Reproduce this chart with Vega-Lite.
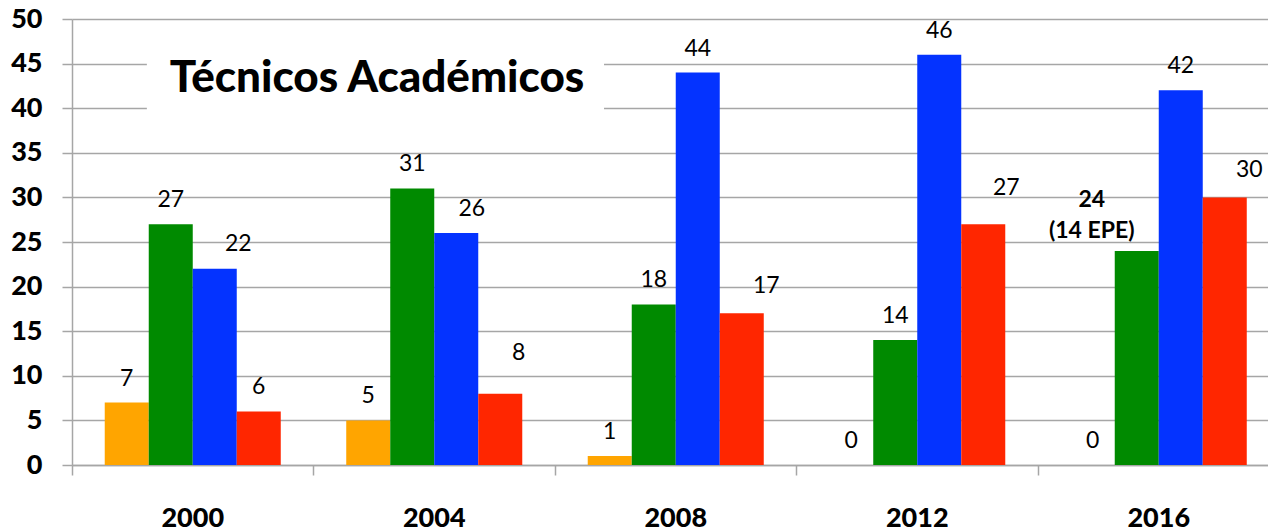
{
  "$schema": "https://vega.github.io/schema/vega-lite/v6.json",
  "width": 1196,
  "height": 446,
  "autosize": "none",
  "padding": {"left": 72, "top": 19, "right": 0, "bottom": 66},
  "background": "white",
  "config": {"view": {"stroke": null}, "font": "Lato"},
  "datasets": {
    "main": [
      {"year": "2000", "series": "A", "value": 7},
      {"year": "2000", "series": "B", "value": 27},
      {"year": "2000", "series": "C", "value": 22},
      {"year": "2000", "series": "D", "value": 6},
      {"year": "2004", "series": "A", "value": 5},
      {"year": "2004", "series": "B", "value": 31},
      {"year": "2004", "series": "C", "value": 26},
      {"year": "2004", "series": "D", "value": 8},
      {"year": "2008", "series": "A", "value": 1},
      {"year": "2008", "series": "B", "value": 18},
      {"year": "2008", "series": "C", "value": 44},
      {"year": "2008", "series": "D", "value": 17},
      {"year": "2012", "series": "A", "value": 0},
      {"year": "2012", "series": "B", "value": 14},
      {"year": "2012", "series": "C", "value": 46},
      {"year": "2012", "series": "D", "value": 27},
      {"year": "2016", "series": "A", "value": 0},
      {"year": "2016", "series": "B", "value": 24},
      {"year": "2016", "series": "C", "value": 42},
      {"year": "2016", "series": "D", "value": 30}
    ]
  },
  "data": {"name": "main"},
  "resolve": {"axis": {"x": "independent"}},
  "layer": [
    {
      "layer": [
        {
          "mark": {"type": "bar"},
          "encoding": {
            "x": {
              "field": "year", "type": "nominal",
              "scale": {"range": [0, 1207.5], "paddingInner": 0, "paddingOuter": 0},
              "axis": {"orient": "bottom", "title": null, "ticks": false, "domain": true, "domainColor": "#a6a6a6", "domainWidth": 1.5, "labelFont": "Lato", "labelFontSize": 27, "labelFontWeight": 900, "labelColor": "black", "labelPadding": 40, "labelAngle": 0, "grid": false}
            },
            "xOffset": {"field": "series", "type": "nominal", "scale": {"paddingInner": 0, "paddingOuter": 0.744}},
            "y": {
              "field": "value", "type": "quantitative",
              "scale": {"domain": [0, 50], "nice": false},
              "axis": {"title": null, "values": [0, 5, 10, 15, 20, 25, 30, 35, 40, 45, 50], "grid": true, "gridColor": "#a6a6a6", "gridWidth": 1.5, "domainColor": "#a6a6a6", "domainWidth": 1.5, "tickColor": "#a6a6a6", "tickSize": 10, "tickWidth": 1.5, "labelFont": "Lato", "labelFontSize": 27, "labelFontWeight": 900, "labelColor": "black", "labelPadding": 20}
            },
            "color": {"field": "series", "type": "nominal", "legend": null, "scale": {"domain": ["A", "B", "C", "D"], "range": ["#FFA500", "#008A00", "#0433FF", "#FF2600"]}}
          }
        },
        {
          "data": {"values": [{}]},
          "mark": {"type": "rect", "color": "white"},
          "encoding": {
            "x": {"datum": "2000", "type": "nominal", "bandPosition": 0.31},
            "x2": {"datum": "2008", "bandPosition": 0.203},
            "y": {"datum": 38, "type": "quantitative"},
            "y2": {"datum": 47.5}
          }
        },
        {
          "data": {"values": [{}]},
          "mark": {"type": "text", "text": "Técnicos Académicos", "font": "Lato", "fontSize": 44, "fontWeight": 900, "align": "left", "baseline": "alphabetic", "color": "black"},
          "encoding": {
            "x": {"datum": "2000", "type": "nominal", "bandPosition": 0.405},
            "y": {"datum": 41.8, "type": "quantitative"}
          }
        },
        {
          "transform": [{"filter": "indexof(['2000|C','2004|C','2004|D','2008|D','2012|D','2016|D','2016|B'], datum.year + '|' + datum.series) < 0"}],
          "mark": {"type": "text", "font": "Lato", "fontSize": 23, "baseline": "alphabetic", "dy": -17, "color": "black"},
          "encoding": {
            "x": {"field": "year", "type": "nominal"},
            "xOffset": {"field": "series", "type": "nominal"},
            "y": {"field": "value", "type": "quantitative"},
            "text": {"field": "value", "type": "quantitative"}
          }
        },
        {
          "transform": [{"filter": "datum.year == '2000' && datum.series == 'C'"}],
          "mark": {"type": "text", "font": "Lato", "fontSize": 23, "baseline": "alphabetic", "dx": 23.5, "dy": -18, "color": "black"},
          "encoding": {
            "x": {"field": "year", "type": "nominal"},
            "xOffset": {"field": "series", "type": "nominal"},
            "y": {"field": "value", "type": "quantitative"},
            "text": {"field": "value", "type": "quantitative"}
          }
        },
        {
          "transform": [{"filter": "datum.year == '2004' && datum.series == 'C'"}],
          "mark": {"type": "text", "font": "Lato", "fontSize": 23, "baseline": "alphabetic", "dx": 15.5, "dy": -17, "color": "black"},
          "encoding": {
            "x": {"field": "year", "type": "nominal"},
            "xOffset": {"field": "series", "type": "nominal"},
            "y": {"field": "value", "type": "quantitative"},
            "text": {"field": "value", "type": "quantitative"}
          }
        },
        {
          "transform": [{"filter": "datum.year == '2004' && datum.series == 'D'"}],
          "mark": {"type": "text", "font": "Lato", "fontSize": 23, "baseline": "alphabetic", "dx": 18.5, "dy": -34, "color": "black"},
          "encoding": {
            "x": {"field": "year", "type": "nominal"},
            "xOffset": {"field": "series", "type": "nominal"},
            "y": {"field": "value", "type": "quantitative"},
            "text": {"field": "value", "type": "quantitative"}
          }
        },
        {
          "transform": [{"filter": "(datum.year == '2008' || datum.year == '2016') && datum.series == 'D'"}],
          "mark": {"type": "text", "font": "Lato", "fontSize": 23, "baseline": "alphabetic", "dx": 24.5, "dy": -20, "color": "black"},
          "encoding": {
            "x": {"field": "year", "type": "nominal"},
            "xOffset": {"field": "series", "type": "nominal"},
            "y": {"field": "value", "type": "quantitative"},
            "text": {"field": "value", "type": "quantitative"}
          }
        },
        {
          "transform": [{"filter": "datum.year == '2012' && datum.series == 'D'"}],
          "mark": {"type": "text", "font": "Lato", "fontSize": 23, "baseline": "alphabetic", "dx": 23, "dy": -29, "color": "black"},
          "encoding": {
            "x": {"field": "year", "type": "nominal"},
            "xOffset": {"field": "series", "type": "nominal"},
            "y": {"field": "value", "type": "quantitative"},
            "text": {"field": "value", "type": "quantitative"}
          }
        },
        {
          "transform": [{"filter": "datum.year == '2016' && datum.series == 'B'"}],
          "mark": {"type": "text", "font": "Lato", "fontSize": 23, "fontWeight": "bold", "baseline": "alphabetic", "dx": -45, "dy": -44, "color": "black"},
          "encoding": {
            "x": {"field": "year", "type": "nominal"},
            "xOffset": {"field": "series", "type": "nominal"},
            "y": {"field": "value", "type": "quantitative"},
            "text": {"field": "value", "type": "quantitative"}
          }
        },
        {
          "transform": [{"filter": "datum.year == '2016' && datum.series == 'B'"}],
          "mark": {"type": "text", "text": "(14 EPE)", "font": "Lato", "fontSize": 23, "fontWeight": "bold", "baseline": "alphabetic", "dx": -45, "dy": -13, "color": "black"},
          "encoding": {
            "x": {"field": "year", "type": "nominal"},
            "xOffset": {"field": "series", "type": "nominal"},
            "y": {"field": "value", "type": "quantitative"}
          }
        }
      ]
    },
    {
      "mark": {"type": "point", "opacity": 0},
      "encoding": {
        "x": {
          "field": "year", "type": "nominal",
          "axis": {"orient": "bottom", "title": null, "labels": false, "domain": false, "ticks": true, "tickSize": 10, "tickColor": "#a6a6a6", "tickWidth": 1.5, "bandPosition": 0, "grid": false}
        }
      }
    }
  ]
}
